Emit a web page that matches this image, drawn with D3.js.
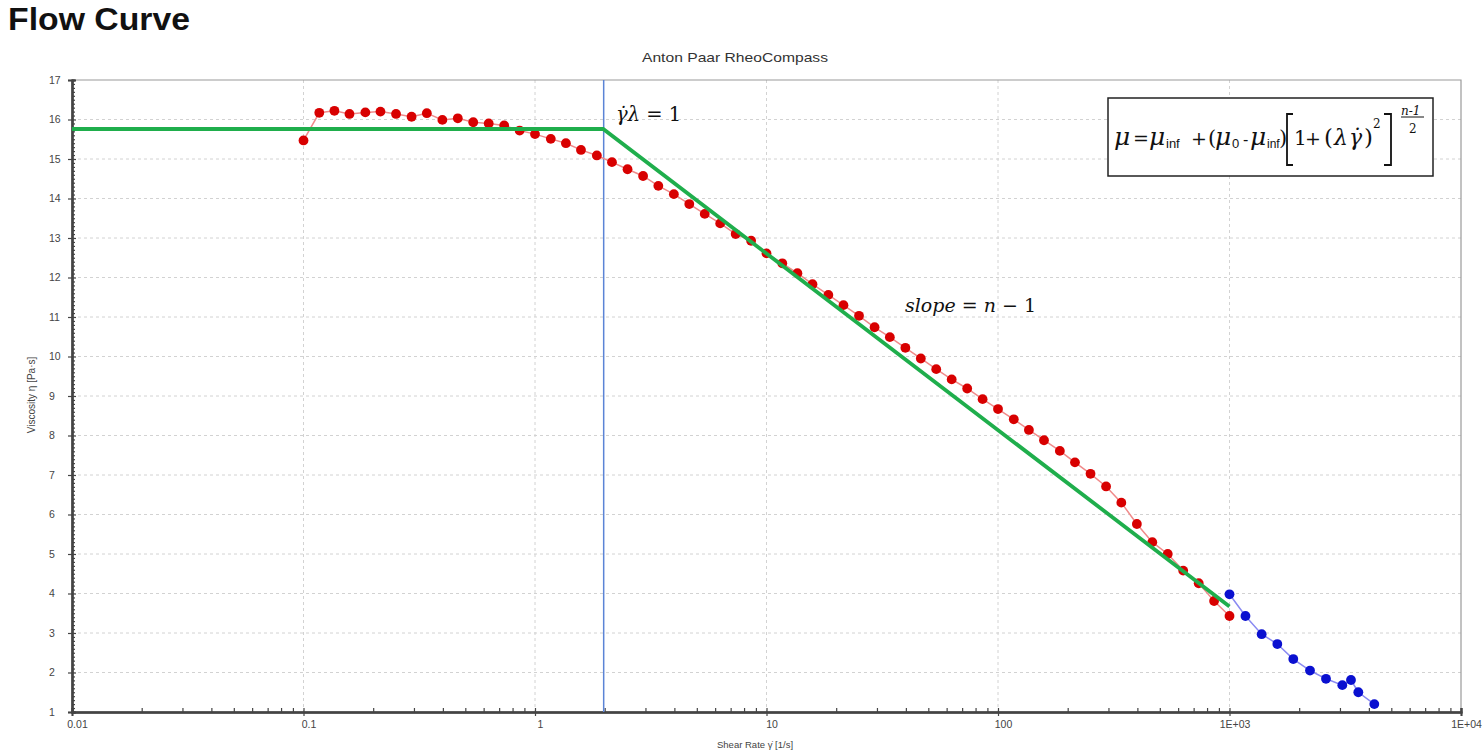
<!DOCTYPE html>
<html>
<head>
<meta charset="utf-8">
<script src="https://cdn.jsdelivr.net/npm/d3@7"></script>
<style>
  html, body { margin: 0; padding: 0; background: #fff; }
  svg { display: block; }
</style>
</head>
<body>
<svg id="chart" width="1483" height="753"></svg>
<script>
// ---------------- data ----------------
const titleText = "Flow Curve";
const subtitleText = "Anton Paar RheoCompass";
const xAxisLabel = "Shear Rate \u03B3\u0307 [1/s]";
const yAxisLabel = "Viscosity \u03B7 [Pa\u00B7s]";

const xTickValues = [0.01, 0.1, 1, 10, 100, 1000, 10000];
const xTickLabels = ["0.01", "0.1", "1", "10", "100", "1E+03", "1E+04"];
const yTickValues = [1, 2, 3, 4, 5, 6, 7, 8, 9, 10, 11, 12, 13, 14, 15, 16, 17];

// measured series (red): shear rate [1/s], viscosity [Pa·s]
const redRate = [0.1, 0.117, 0.136, 0.158, 0.185, 0.215, 0.251, 0.293, 0.341, 0.398,
  0.464, 0.541, 0.631, 0.736, 0.858, 1, 1.17, 1.36, 1.58, 1.85,
  2.15, 2.51, 2.93, 3.41, 3.98, 4.64, 5.41, 6.31, 7.36, 8.58,
  10, 11.7, 13.6, 15.8, 18.5, 21.5, 25.1, 29.3, 34.1, 39.8,
  46.4, 54.1, 63.1, 73.6, 85.8, 100, 117, 136, 158, 185,
  215, 251, 293, 341, 398, 464, 541, 631, 736, 858, 1000];
const redVisc = [15.47, 16.17, 16.22, 16.14, 16.18, 16.20, 16.14, 16.07, 16.16, 15.99,
  16.03, 15.93, 15.90, 15.85, 15.72, 15.63, 15.51, 15.40, 15.23, 15.09,
  14.92, 14.74, 14.57, 14.32, 14.11, 13.86, 13.61, 13.37, 13.10, 12.93,
  12.61, 12.36, 12.11, 11.83, 11.56, 11.30, 11.03, 10.74, 10.49, 10.22,
  9.95, 9.68, 9.42, 9.19, 8.92, 8.67, 8.41, 8.14, 7.88, 7.61,
  7.32, 7.03, 6.71, 6.30, 5.76, 5.30, 5.00, 4.58, 4.26, 3.81, 3.43];

// second series (blue)
const blueRate = [1000, 1172, 1377, 1609, 1886, 2227, 2611, 3071, 3348, 3601, 4222];
const blueVisc = [3.98, 3.43, 2.97, 2.72, 2.34, 2.05, 1.84, 1.68, 1.81, 1.50, 1.20];

// power-law fit asymptotes (green)
const fitRate = [0.01, 1.97, 1000];
const fitVisc = [15.76, 15.76, 3.67];

// critical shear rate (blue vertical line)
const criticalRate = 1.98;

// ---------------- drawing ----------------
const svg = d3.select("#chart");
const pL = 72, pR = 1461, pT = 80, pB = 712;

const x = d3.scaleLog().domain([0.01, 10000]).range([pL, pR]);
const y = d3.scaleLinear().domain([1, 17]).range([pB, pT]);

const sans = "Liberation Sans, Arial, sans-serif";

// title
svg.append("text").attr("x", 8).attr("y", 30)
  .attr("font-family", sans)
  .attr("font-weight", "bold").attr("font-size", 31).attr("fill", "#111")
  .attr("textLength", 182).attr("lengthAdjust", "spacingAndGlyphs")
  .text(titleText);

svg.append("text").attr("x", 642).attr("y", 62)
  .attr("font-family", sans)
  .attr("font-size", 13.5).attr("fill", "#333")
  .attr("textLength", 186).attr("lengthAdjust", "spacingAndGlyphs")
  .text(subtitleText);

// grid
const grid = svg.append("g").attr("stroke", "#d2d2d2").attr("stroke-width", 1)
  .attr("stroke-dasharray", "3,3");
grid.selectAll("line.gx").data(xTickValues.slice(1, -1)).join("line")
  .attr("x1", d => x(d)).attr("x2", d => x(d)).attr("y1", pT).attr("y2", pB);
grid.selectAll("line.gy").data(yTickValues.slice(1, -1)).join("line")
  .attr("x1", pL).attr("x2", pR).attr("y1", d => y(d)).attr("y2", d => y(d));

// frame (top/right)
svg.append("path")
  .attr("d", `M${pL},${pT}H${pR}V${pB}`)
  .attr("fill", "none").attr("stroke", "#9a9a9a").attr("stroke-width", 1.2);

// minor ticks
const xMinor = [];
for (let e = -2; e < 4; e++) for (let m = 2; m <= 9; m++) xMinor.push(m * Math.pow(10, e));
const yMinor = [];
for (let v = 1; v < 17; v++) for (let k = 1; k < 10; k++) yMinor.push(v + k / 10);

// x axis
const gx = svg.append("g").attr("transform", `translate(0,${pB})`);
gx.call(d3.axisBottom(x).tickValues(xTickValues).tickSize(4)
  .tickFormat((d, i) => xTickLabels[i]));
gx.append("g").call(d3.axisBottom(x).tickValues(xTickValues).tickSize(-4).tickFormat(""));
gx.append("g").call(d3.axisBottom(x).tickValues(xMinor).tickSize(-4).tickFormat(""));
gx.selectAll(".domain").attr("stroke", "#444").attr("stroke-width", 2);
gx.selectAll("line").attr("stroke", "#444").attr("stroke-width", 1.2);
gx.selectAll("text").attr("font-family", sans).attr("font-size", 10.5)
  .attr("fill", "#444").attr("dx", 5).attr("dy", "0.9em");

// y axis
const gy = svg.append("g").attr("transform", `translate(${pL},0)`);
gy.call(d3.axisLeft(y).tickValues(yTickValues).tickSize(4).tickFormat(d3.format("d")));
gy.append("g").call(d3.axisLeft(y).tickValues(yTickValues).tickSize(-4).tickFormat(""));
gy.append("g").call(d3.axisLeft(y).tickValues(yMinor).tickSize(-3).tickFormat(""));
gy.selectAll(".domain").attr("stroke", "#444").attr("stroke-width", 2);
gy.selectAll("line").attr("stroke", "#444").attr("stroke-width", 1.2);
gy.selectAll("text").attr("font-family", sans).attr("font-size", 10.5)
  .attr("fill", "#444").attr("text-anchor", "start").attr("x", -23);

// axis labels
svg.append("text").attr("x", 717).attr("y", 748)
  .attr("font-family", sans).attr("font-size", 9.5).attr("fill", "#444")
  .text(xAxisLabel);
svg.append("text").attr("transform", "translate(35,395) rotate(-90)")
  .attr("text-anchor", "middle")
  .attr("font-family", sans).attr("font-size", 10).attr("fill", "#444")
  .text(yAxisLabel);

// critical shear rate line
svg.append("line").attr("x1", x(criticalRate)).attr("x2", x(criticalRate))
  .attr("y1", pT).attr("y2", pB)
  .attr("stroke", "#5b84d6").attr("stroke-width", 1.5);

// series lines
const line = d3.line().x(d => x(d[0])).y(d => y(d[1]));
const redData = redRate.map((r, i) => [r, redVisc[i]]);
const blueData = blueRate.map((r, i) => [r, blueVisc[i]]);
const fitData = fitRate.map((r, i) => [r, fitVisc[i]]);

svg.append("path").datum(redData).attr("d", line)
  .attr("fill", "none").attr("stroke", "#f08a8a").attr("stroke-width", 1.5);
svg.append("path").datum(blueData).attr("d", line)
  .attr("fill", "none").attr("stroke", "#8a8af2").attr("stroke-width", 1.5);

svg.append("g").selectAll("circle").data(redData).join("circle")
  .attr("cx", d => x(d[0])).attr("cy", d => y(d[1])).attr("r", 4.9)
  .attr("fill", "#d80000");
svg.append("g").selectAll("circle").data(blueData).join("circle")
  .attr("cx", d => x(d[0])).attr("cy", d => y(d[1])).attr("r", 4.9)
  .attr("fill", "#0a10d0");

// green fit
svg.append("path").datum(fitData).attr("d", line)
  .attr("fill", "none").attr("stroke", "#1fae4c").attr("stroke-width", 3.8)
  .attr("stroke-linejoin", "miter");

// annotations
const mathFont = "DejaVu Serif, Liberation Serif, serif";
const a1 = svg.append("text").attr("x", 616).attr("y", 121)
  .attr("font-family", mathFont).attr("font-size", 19.5).attr("fill", "#111");
a1.append("tspan").attr("font-style", "italic").text("\u03B3\u0307\u03BB");
a1.append("tspan").text(" = 1");

const a2 = svg.append("text").attr("x", 905).attr("y", 312)
  .attr("font-family", mathFont).attr("font-size", 19).attr("fill", "#111");
a2.append("tspan").attr("font-style", "italic").text("slope");
a2.append("tspan").text(" = ");
a2.append("tspan").attr("font-style", "italic").text("n");
a2.append("tspan").text(" \u2212 1");

// formula box
const fb = svg.append("g");
fb.append("rect").attr("x", 1108).attr("y", 98).attr("width", 325).attr("height", 78)
  .attr("fill", "#fff").attr("stroke", "#222").attr("stroke-width", 1.5);
const fbase = 145;
const pieces = [
  { t: "\u03BC", x: 1114, it: true, s: 25 },
  { t: "=", x: 1133, s: 19 },
  { t: "\u03BC", x: 1149, it: true, s: 25 },
  { t: "inf", x: 1166, s: 13, dy: 3, f: sans },
  { t: "+", x: 1191, s: 19 },
  { t: "(", x: 1208, s: 21 },
  { t: "\u03BC", x: 1215, it: true, s: 25 },
  { t: "0", x: 1232, s: 13, dy: 3, f: sans },
  { t: "-", x: 1243, s: 16, f: sans },
  { t: "\u03BC", x: 1250, it: true, s: 25 },
  { t: "inf", x: 1267, s: 12, dy: 3, f: sans },
  { t: ")", x: 1279, s: 21 },
  { t: "1", x: 1294, s: 20 },
  { t: "+", x: 1305, s: 19 },
  { t: "(", x: 1324, s: 23 },
  { t: "\u03BB", x: 1334, it: true, s: 22 },
  { t: "\u03B3\u0307", x: 1349, it: true, s: 22 },
  { t: ")", x: 1364, s: 23 },
  { t: "2", x: 1373, s: 12, dy: -17 },
  { t: "n-1", x: 1401, s: 12, dy: -30, it: true },
  { t: "2", x: 1409, s: 12, dy: -12 }
];
fb.selectAll("text.p").data(pieces).join("text")
  .attr("x", d => d.x).attr("y", d => fbase + (d.dy || 0))
  .attr("font-family", d => d.f || mathFont).attr("font-size", d => d.s)
  .attr("font-style", d => d.it ? "italic" : "normal").attr("fill", "#111")
  .text(d => d.t);
// big brackets and fraction bar
fb.append("path").attr("d", "M1293,114H1287V165H1293").attr("fill", "none")
  .attr("stroke", "#111").attr("stroke-width", 1.8);
fb.append("path").attr("d", "M1384,114H1391V165H1384").attr("fill", "none")
  .attr("stroke", "#111").attr("stroke-width", 1.8);
fb.append("line").attr("x1", 1401).attr("x2", 1424).attr("y1", 117).attr("y2", 117)
  .attr("stroke", "#111").attr("stroke-width", 1);
</script>
</body>
</html>
